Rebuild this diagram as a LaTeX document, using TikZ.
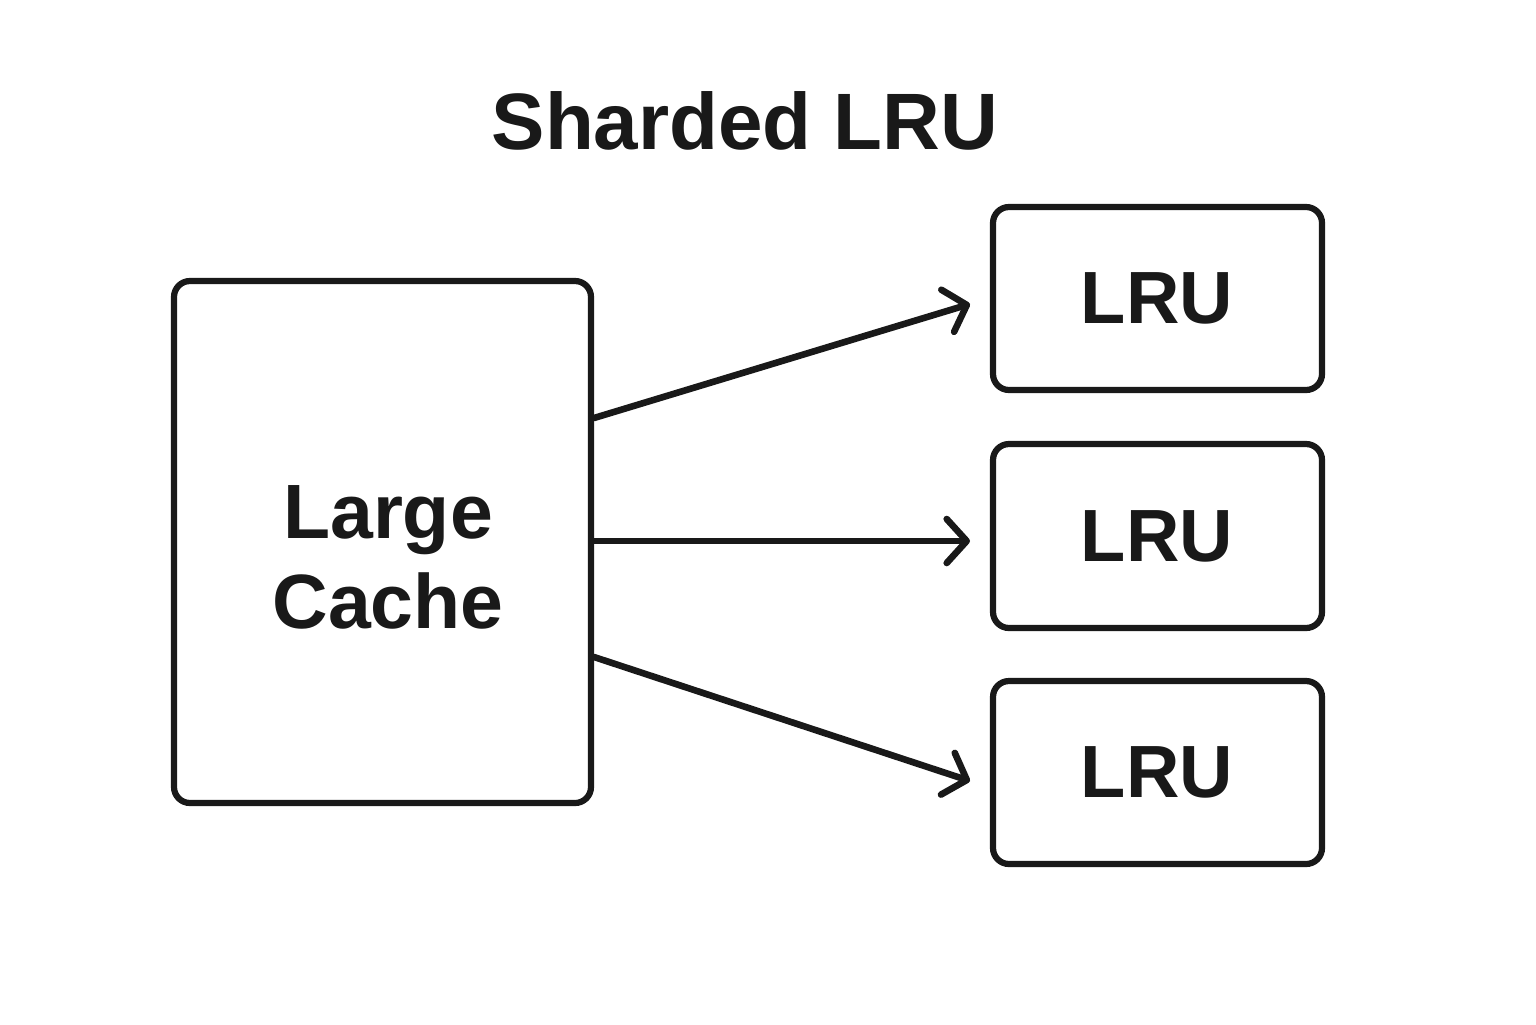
\documentclass[tikz,border=0pt]{standalone}
\usepackage{fontspec}
\setmainfont{Liberation Sans}
\usetikzlibrary{arrows.meta}
\begin{document}
\begin{tikzpicture}[x=0.5pt,y=-0.5pt,
  box/.style={draw=black!90, line width=3.1pt, rounded corners=8pt},
  lbl/.style={font=\fontsize{37}{44}\selectfont\bfseries, text=black!90, align=center},
  conn/.style={draw=black!90, line width=3.3pt, line cap=round,
     -{Straight Barb[length=10pt,width=22pt,line width=3.3pt,round]}}]
\useasboundingbox[fill=white] (0,0) rectangle (1536,1024);
\node[lbl, font=\fontsize{40}{48}\selectfont\bfseries] (title) at (745,121) {Sharded LRU};
\draw[box] (174,281) rectangle (591,803);
\node[lbl, font=\fontsize{38.5}{45}\selectfont\bfseries, align=center, text width=400pt] (big) at (388,557) {Large\\Cache};
\coordinate (bigE1) at (594,418);
\coordinate (bigE2) at (594,541);
\coordinate (bigE3) at (594,657);
\draw[box] (993,207) rectangle (1322,390);
\node[lbl] (l1) at (1157,298) {LRU};
\draw[box] (993,444) rectangle (1322,628);
\node[lbl] (l2) at (1157,536) {LRU};
\draw[box] (993,681) rectangle (1322,864);
\node[lbl] (l3) at (1157,772) {LRU};
\coordinate (t1) at (970,304);
\coordinate (t2) at (970,541);
\coordinate (t3) at (970,781);
\draw[conn] (bigE1) -- (t1);
\draw[conn] (bigE2) -- (t2);
\draw[conn] (bigE3) -- (t3);
\end{tikzpicture}
\end{document}
